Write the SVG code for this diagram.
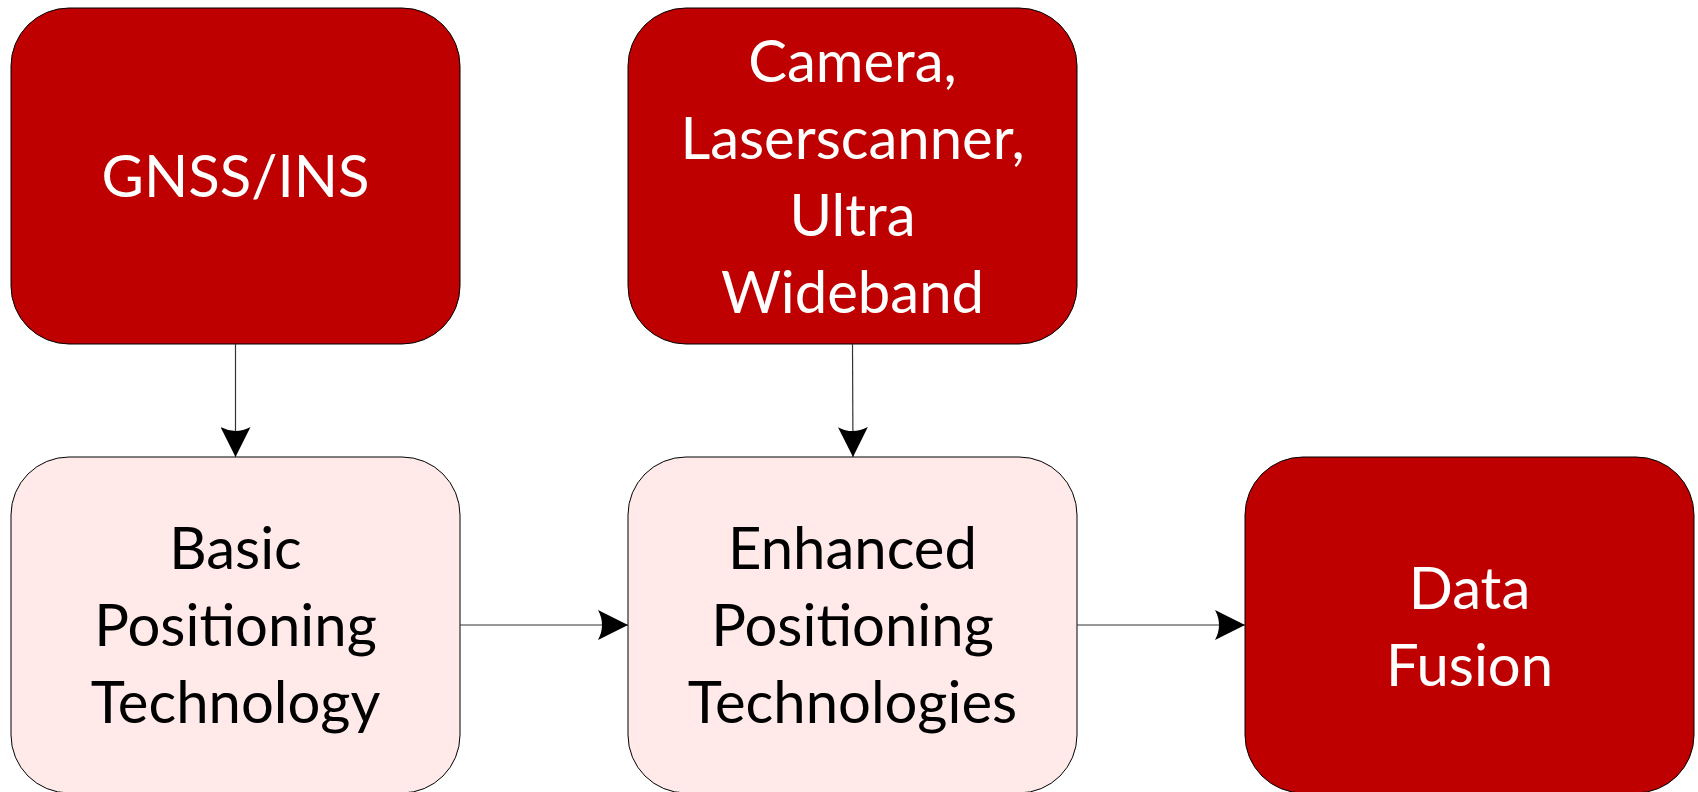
<svg xmlns="http://www.w3.org/2000/svg" width="1698" height="792" viewBox="0 0 1698 792">
<defs>
<style>
.red{fill:#BE0000;stroke:#000;stroke-width:1}
.pink{fill:#FFE9E9;stroke:#000;stroke-width:1}
.t{font-family:Lato,"Open Sans","Liberation Sans",sans-serif;font-size:58px;text-anchor:middle}
.w{fill:#fff}
.b{fill:#000}
.c{stroke:#333;stroke-width:1.2;fill:none;marker-end:url(#ah)}
</style>
<marker id="ah" viewBox="0 0 30 30" refX="30" refY="15" markerWidth="30" markerHeight="30" markerUnits="userSpaceOnUse" orient="auto">
<path d="M0,0 L30,15 L0,30 Q8,15 0,0 Z" fill="#000"/>
</marker>
</defs>
<rect width="1698" height="792" fill="#fff"/>
<g id="gnss">
<rect class="red" x="11" y="8" width="449" height="336" rx="58" ry="58"/>
<text class="t w" x="235.5" y="197">GNSS/INS</text>
</g>
<g id="sensors">
<rect class="red" x="628" y="8" width="449" height="336" rx="58" ry="58"/>
<text class="t w" x="852.5" y="82">Camera,</text>
<text class="t w" x="852.5" y="159">Laserscanner,</text>
<text class="t w" x="852.5" y="236">Ultra</text>
<text class="t w" x="852.5" y="313">Wideband</text>
</g>
<g id="basic">
<rect class="pink" x="11" y="457" width="449" height="336" rx="58" ry="58"/>
<text class="t b" x="235.5" y="569">Basic</text>
<text class="t b" x="235.5" y="646">Positioning</text>
<text class="t b" x="235.5" y="723">Technology</text>
</g>
<g id="enhanced">
<rect class="pink" x="628" y="457" width="449" height="336" rx="58" ry="58"/>
<text class="t b" x="852.5" y="569">Enhanced</text>
<text class="t b" x="852.5" y="646">Positioning</text>
<text class="t b" x="852.5" y="723">Technologies</text>
</g>
<g id="fusion">
<rect class="red" x="1245" y="457" width="449" height="336" rx="58" ry="58"/>
<text class="t w" x="1469.5" y="609">Data</text>
<text class="t w" x="1469.5" y="686">Fusion</text>
</g>
<g id="connectors">
<path class="c" d="M235.5,344 L235.5,457"/>
<path class="c" d="M852.5,344 L853,457"/>
<path class="c" d="M460,625 L628,625"/>
<path class="c" d="M1077,625 L1245,625"/>
</g>
</svg>
